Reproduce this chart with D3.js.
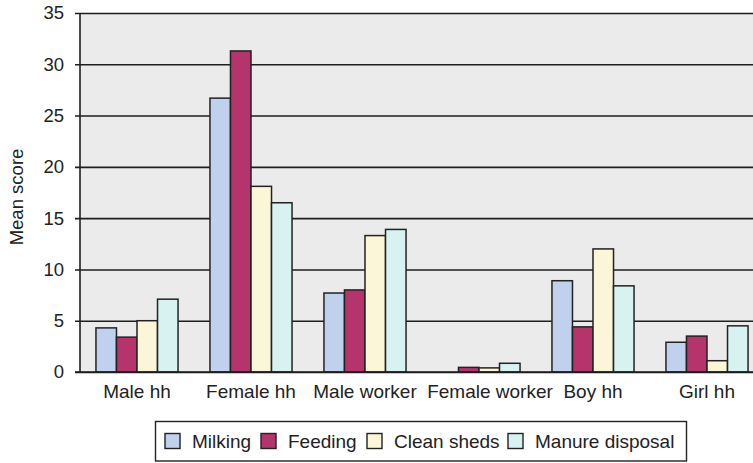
<!DOCTYPE html>
<html>
<head>
<meta charset="utf-8">
<script src="https://cdnjs.cloudflare.com/ajax/libs/d3/7.8.5/d3.min.js"></script>
<style>
  body { margin: 0; background: #fff; }
  text { font-family: "Liberation Sans", Arial, sans-serif; fill: #222; }
</style>
</head>
<body>
<div id="chart"></div>
<script>
var w = 753, h = 463;

// data
var categories = ['Male hh', 'Female hh', 'Male worker', 'Female worker', 'Boy hh', 'Girl hh'];
var seriesNames = ['Milking', 'Feeding', 'Clean sheds', 'Manure disposal'];
var milking = [4.3, 26.7, 7.7, 0, 8.9, 2.9];
var feeding = [3.4, 31.3, 8.0, 0.45, 4.4, 3.5];
var cleanSheds = [5.0, 18.1, 13.3, 0.4, 12.0, 1.1];
var manure = [7.1, 16.5, 13.9, 0.85, 8.4, 4.5];
var yTicks = [0, 5, 10, 15, 20, 25, 30, 35];
var colors = ['#c0d1ee', '#b5346c', '#fcf6d9', '#d8f1f1'];

var values = [milking, feeding, cleanSheds, manure];

var plotLeft = 80, plotTop = 13, plotBottom = 372;

var svg = d3.select('#chart').append('svg')
  .attr('width', w)
  .attr('height', h);

// categories run a bit past the right edge, like the original
var x = d3.scaleBand()
  .domain(categories)
  .range([plotLeft, plotLeft + 6 * 114])
  .paddingInner(0.28)
  .paddingOuter(0.14);

var xs = d3.scaleBand()
  .domain(d3.range(seriesNames.length))
  .range([0, x.bandwidth()]);

var y = d3.scaleLinear()
  .domain([0, 35])
  .range([plotBottom, plotTop]);

// plot background
svg.append('rect')
  .attr('x', plotLeft)
  .attr('y', plotTop)
  .attr('width', w - plotLeft)
  .attr('height', plotBottom - plotTop)
  .attr('fill', '#ebebeb');

// gridlines + ticks
var yAxis = d3.axisLeft(y).tickValues(yTicks).tickSize(-(w - plotLeft)).tickPadding(12);
var gy = svg.append('g')
  .attr('transform', 'translate(' + plotLeft + ',0)')
  .call(yAxis);
gy.select('.domain').remove();
gy.selectAll('.tick line')
  .attr('x1', -5)
  .attr('stroke', '#1e1e1e')
  .attr('stroke-width', 1.6);
gy.selectAll('.tick text')
  .attr('x', -16)
  .style('font-size', '18.5px')
  .style('font-family', '"Liberation Sans", Arial, sans-serif')
  .attr('fill', '#222');

// bars
var groups = svg.selectAll('.grp')
  .data(categories)
  .enter().append('g')
  .attr('class', 'grp')
  .attr('transform', function(d) { return 'translate(' + x(d) + ',0)'; });

groups.selectAll('rect')
  .data(function(d, i) {
    return values.map(function(s, k) { return { k: k, v: s[i] }; }).filter(function(d) { return d.v > 0; });
  })
  .enter().append('rect')
  .attr('x', function(d) { return xs(d.k); })
  .attr('y', function(d) { return y(d.v); })
  .attr('width', xs.bandwidth())
  .attr('height', function(d) { return plotBottom - y(d.v); })
  .attr('fill', function(d) { return colors[d.k]; })
  .attr('stroke', '#222')
  .attr('stroke-width', 1.5);

// axis lines
svg.append('line')
  .attr('x1', plotLeft).attr('x2', plotLeft)
  .attr('y1', plotTop).attr('y2', plotBottom)
  .attr('stroke', '#1e1e1e').attr('stroke-width', 1.6);
svg.append('line')
  .attr('x1', plotLeft - 5).attr('x2', w)
  .attr('y1', plotBottom).attr('y2', plotBottom)
  .attr('stroke', '#1e1e1e').attr('stroke-width', 1.6);

// category labels (Female worker is nudged right so it clears Male worker)
svg.selectAll('.cat')
  .data(categories)
  .enter().append('text')
  .attr('class', 'cat')
  .attr('x', function(d) { return x(d) + x.bandwidth() / 2 + (d == 'Female worker' ? 11 : 0); })
  .attr('y', 398)
  .attr('text-anchor', 'middle')
  .style('font-size', '19px')
  .text(function(d) { return d; });

// y title
svg.append('text')
  .attr('transform', 'translate(23,197) rotate(-90)')
  .attr('text-anchor', 'middle')
  .style('font-size', '18.5px')
  .text('Mean score');

// legend
var legend = svg.append('g');
legend.append('rect')
  .attr('x', 155.5).attr('y', 421.5)
  .attr('width', 531).attr('height', 39.5)
  .attr('fill', '#fff')
  .attr('stroke', '#222')
  .attr('stroke-width', 1.4);

var legendX = [165, 261, 367, 508];
seriesNames.forEach(function(name, k) {
  legend.append('rect')
    .attr('x', legendX[k]).attr('y', 433.5)
    .attr('width', 15).attr('height', 15)
    .attr('fill', colors[k])
    .attr('stroke', '#222')
    .attr('stroke-width', 1.4);
  legend.append('text')
    .attr('x', legendX[k] + 27)
    .attr('y', 448)
    .style('font-size', '19px')
    .text(name);
});
</script>
</body>
</html>
